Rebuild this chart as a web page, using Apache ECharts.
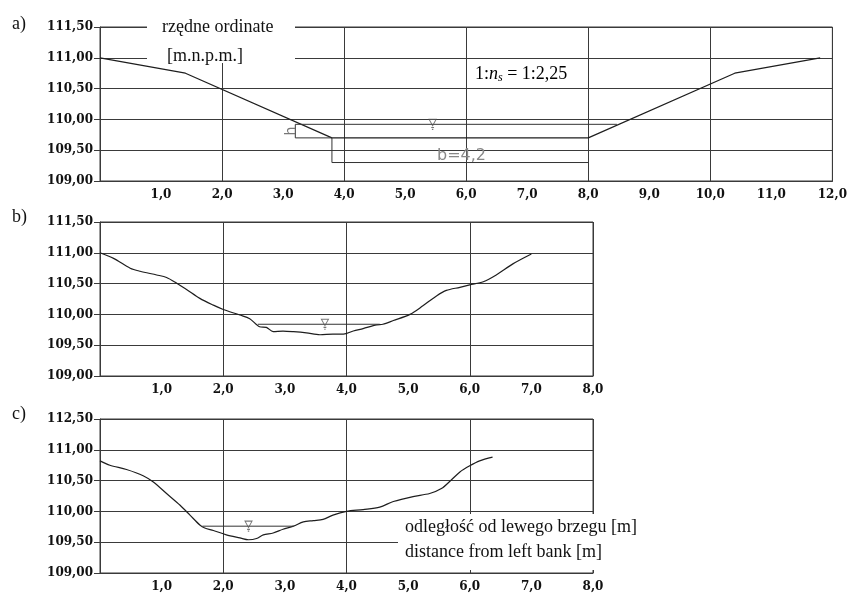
<!DOCTYPE html>
<html>
<head>
<meta charset="utf-8">
<script src="https://cdn.jsdelivr.net/npm/echarts@6/dist/echarts.min.js"></script>
<style>
html,body{margin:0;padding:0;background:#fff;}
#chart{width:850px;height:595px;}
</style>
</head>
<body>
<div id="chart"></div>
<script>
// ---- Data ----
// Panel a: designed trapezoidal channel (x [m], ordinate [m n.p.m.])
const profileA_x = [0, 1.4, 3.8, 8.0, 10.4, 11.8];
const profileA_y = [111.0, 110.75, 109.70, 109.70, 110.75, 111.0];
const waterA = { level: 109.92, from: 3.2, to: 8.47, mark: 5.45 };
const depthDimA = { x: 3.2, bottom: 109.70 };
const widthDimA = { from: 3.8, to: 8.0, level: 109.30, bottom: 109.70 };

// Panel b: measured cross-section
const profileB_x = [0, 0.22, 0.49, 0.65, 0.92, 1.08, 1.24, 1.41, 1.62, 1.84, 2.0, 2.27, 2.43, 2.59, 2.70, 2.81, 2.97, 3.14, 3.35, 3.57, 3.78, 3.95, 4.11, 4.27, 4.49, 4.59, 4.76, 5.03, 5.24, 5.46, 5.62, 5.84, 6.0, 6.22, 6.43, 6.70, 7.0];
const profileB_y = [111.0, 110.91, 110.75, 110.70, 110.64, 110.60, 110.51, 110.40, 110.26, 110.15, 110.08, 109.99, 109.93, 109.80, 109.79, 109.72, 109.73, 109.72, 109.70, 109.67, 109.68, 109.68, 109.73, 109.77, 109.83, 109.84, 109.90, 110.0, 110.14, 110.30, 110.39, 110.44, 110.48, 110.53, 110.64, 110.82, 110.98];
const waterB = { level: 109.84, from: 2.56, to: 4.54, mark: 3.65 };

// Panel c: measured cross-section
const profileC_x = [0, 0.16, 0.43, 0.70, 0.86, 1.08, 1.30, 1.46, 1.62, 1.70, 1.84, 2.05, 2.27, 2.41, 2.54, 2.65, 2.81, 2.97, 3.14, 3.30, 3.46, 3.62, 3.78, 4.0, 4.27, 4.54, 4.76, 5.08, 5.35, 5.54, 5.70, 5.84, 6.0, 6.16, 6.37];
const profileC_y = [110.82, 110.75, 110.68, 110.58, 110.48, 110.29, 110.10, 109.94, 109.78, 109.73, 109.69, 109.62, 109.57, 109.54, 109.56, 109.62, 109.65, 109.71, 109.76, 109.83, 109.85, 109.87, 109.94, 110.0, 110.03, 110.07, 110.16, 110.24, 110.29, 110.37, 110.51, 110.64, 110.74, 110.82, 110.88];
const waterC = { level: 109.76, from: 1.66, to: 3.14, mark: 2.41 };

// Tick labels
const xLabelsA = ['1,0','2,0','3,0','4,0','5,0','6,0','7,0','8,0','9,0','10,0','11,0','12,0'];
const xLabelsBC = ['1,0','2,0','3,0','4,0','5,0','6,0','7,0','8,0'];
const yLabelsAB = ['109,00','109,50','110,00','110,50','111,00','111,50'];
const yLabelsC = ['109,00','109,50','110,00','110,50','111,00','112,50'];

// ---- Chart ----
const zip = (xs, ys) => xs.map((x, i) => [x, ys[i]]);
const GRID_COL = '#3a3a3a';
const LINE_COL = '#1e1e1e';
const labelFont = { fontFamily: 'DejaVu Serif', fontWeight: 'bold', fontSize: 12, color: '#111' };
const serif = 'Liberation Serif';

const grids = [
  { left: 100, top: 27, width: 740, height: 154 },
  { left: 100, top: 222, width: 493, height: 154 },
  { left: 100, top: 419, width: 493, height: 154 }
];

const xAxes = [], yAxes = [];
const panels = [
  { max: 12, xl: xLabelsA, yl: yLabelsAB },
  { max: 8, xl: xLabelsBC, yl: yLabelsAB },
  { max: 8, xl: xLabelsBC, yl: yLabelsC }
];
panels.forEach((p, i) => {
  // labelled axis (every 1 m)
  xAxes.push({
    type: 'value', gridIndex: i, min: 0, max: p.max, interval: 1,
    axisLine: { show: true, onZero: false, lineStyle: { color: GRID_COL, width: 1 } },
    axisTick: { show: false },
    splitLine: { show: false },
    axisLabel: Object.assign({ margin: 8, formatter: v => v === 0 ? '' : p.xl[Math.round(v) - 1] }, labelFont)
  });
  // grid lines (every 2 m)
  xAxes.push({
    type: 'value', gridIndex: i, min: 0, max: p.max, interval: 2,
    axisLine: { show: false }, axisTick: { show: false }, axisLabel: { show: false },
    splitLine: { show: true, lineStyle: { color: GRID_COL, width: 1 } }
  });
  yAxes.push({
    type: 'value', gridIndex: i, min: 109, max: 111.5, interval: 0.5,
    axisLine: { show: true, onZero: false, lineStyle: { color: GRID_COL, width: 1 } },
    axisTick: { show: true, length: 6, lineStyle: { color: GRID_COL } },
    splitLine: { show: true, lineStyle: { color: GRID_COL, width: 1 } },
    axisLabel: Object.assign({ margin: 7, formatter: v => p.yl[Math.round((v - 109) / 0.5)] }, labelFont)
  });
});
grids.forEach(g => { g.show = true; g.borderColor = GRID_COL; g.borderWidth = 1; });

function line(data, xi, yi, opts) {
  return Object.assign({
    type: 'line', xAxisIndex: xi, yAxisIndex: yi, data: data,
    symbol: 'none', silent: true, animation: false,
    lineStyle: { color: LINE_COL, width: 1.2 }
  }, opts || {});
}
const waterSymbol = 'path://M0,0 L10,0 L5,7 Z M3,9 L7,9 M4,11 L6,11';
function waterMark(w, xi, yi) {
  return {
    type: 'scatter', xAxisIndex: xi, yAxisIndex: yi, silent: true, animation: false,
    data: [[w.mark, w.level]], symbol: waterSymbol, symbolSize: [7, 10],
    itemStyle: { color: 'rgba(0,0,0,0)', borderColor: '#555', borderWidth: 1 }, z: 4
  };
}

const series = [
  // panel a
  line(zip(profileA_x, profileA_y), 0, 0, { z: 3 }),
  line([[waterA.from, waterA.level], [waterA.to, waterA.level]], 0, 0, { lineStyle: { color: '#333', width: 1 } }),
  line([[depthDimA.x, waterA.level], [depthDimA.x, depthDimA.bottom], [widthDimA.from, widthDimA.bottom]], 0, 0, { lineStyle: { color: '#333', width: 1 } }),
  line([[widthDimA.from, widthDimA.bottom], [widthDimA.from, widthDimA.level], [widthDimA.to, widthDimA.level]], 0, 0, { lineStyle: { color: '#333', width: 1 } }),
  waterMark(waterA, 0, 0),
  // panel b
  line(zip(profileB_x, profileB_y), 2, 1, { smooth: 0.3, z: 3 }),
  line([[waterB.from, waterB.level], [waterB.to, waterB.level]], 2, 1, { lineStyle: { color: '#333', width: 1 } }),
  waterMark(waterB, 2, 1),
  // panel c
  line(zip(profileC_x, profileC_y), 4, 2, { smooth: 0.3, z: 3 }),
  line([[waterC.from, waterC.level], [waterC.to, waterC.level]], 4, 2, { lineStyle: { color: '#333', width: 1 } }),
  waterMark(waterC, 4, 2)
];

const txt = (x, y, s, size, extra) => Object.assign({
  type: 'text', x: x, y: y, z: 10,
  style: Object.assign({ text: s, font: size + 'px "' + serif + '"', fill: '#111', textVerticalAlign: 'middle' }, extra || {})
});

const graphic = [
  { type: 'rect', shape: { x: 147, y: 12, width: 148, height: 51 }, style: { fill: '#fff' }, z: 1 },
  { type: 'rect', shape: { x: 398, y: 514, width: 300, height: 56 }, style: { fill: '#fff' }, z: 1 },
  txt(12, 24, 'a)', 18),
  txt(12, 217, 'b)', 18),
  txt(12, 414, 'c)', 18),
  txt(162, 27, 'rzędne ordinate', 18),
  txt(167, 56, '[m.n.p.m.]', 18),
  {
    type: 'text', x: 475, y: 74, z: 10,
    style: {
      text: '{a|1:}{i|n}{s|s}{a| = 1:2,25}',
      textVerticalAlign: 'middle',
      rich: {
        a: { fontFamily: serif, fontSize: 18, color: '#111' },
        i: { fontFamily: serif, fontSize: 18, fontStyle: 'italic', color: '#111' },
        s: { fontFamily: serif, fontSize: 12, fontStyle: 'italic', color: '#111', padding: [8, 0, 0, 0] }
      }
    }
  },
  txt(437, 156, 'b=4,2', 16, { font: '16px "DejaVu Sans"', fill: '#888' }),
  { type: 'text', x: 291, y: 131, z: 10, rotation: Math.PI / 2,
    style: { text: 'h', font: '14px "DejaVu Sans"', fill: '#777', textAlign: 'center', textVerticalAlign: 'middle' } },
  txt(405, 527, 'odległość od lewego brzegu [m]', 18),
  txt(405, 552, 'distance from left bank [m]', 18)
];

const chart = echarts.init(document.getElementById('chart'), null, { renderer: 'canvas' });
chart.setOption({
  animation: false,
  backgroundColor: '#fff',
  grid: grids,
  xAxis: xAxes,
  yAxis: yAxes,
  series: series,
  graphic: graphic
});
</script>
</body>
</html>
